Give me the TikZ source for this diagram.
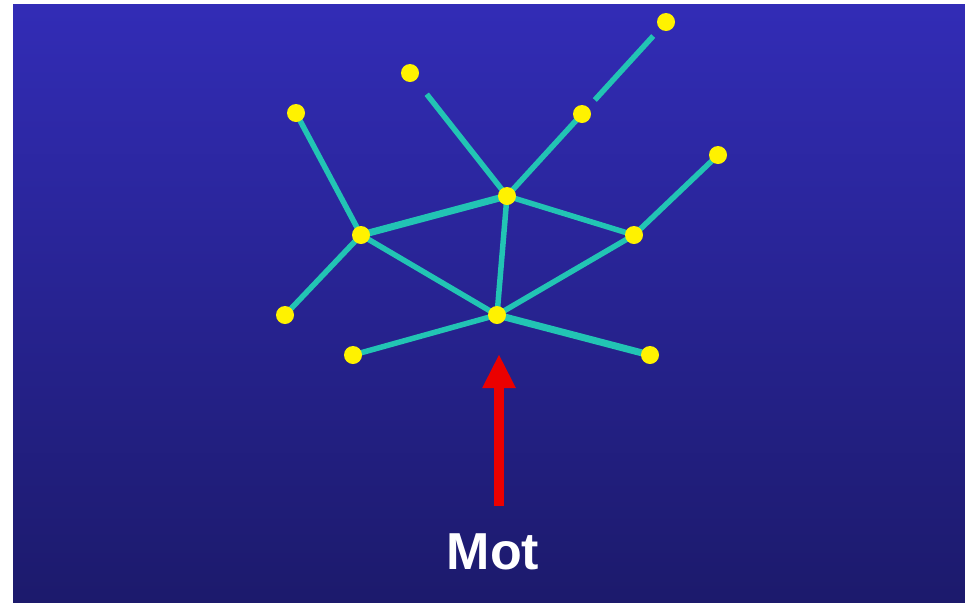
\documentclass[tikz,border=0pt]{standalone}
\usepackage{fontspec}
\setmainfont{Liberation Sans}
\usetikzlibrary{arrows.meta,backgrounds}
\definecolor{bgtop}{RGB}{50,44,182}
\definecolor{bgbot}{RGB}{28,26,108}
\definecolor{link}{RGB}{34,196,180}
\definecolor{dot}{RGB}{255,242,0}
\definecolor{arrowred}{RGB}{235,0,0}
\tikzset{
  joint/.style={circle,fill=dot,inner sep=0pt,minimum size=18pt},
  bone/.style={draw=link,line width=5.5pt},
  thickbone/.style={draw=link,line width=7pt},
}
\begin{document}
\begin{tikzpicture}[x=1pt,y=-1pt]
\useasboundingbox (0,0) rectangle (965,603);

% joints
\node[joint] (A) at (666,22) {};
\node[joint] (B) at (582,114) {};
\node[joint] (C) at (410,73) {};
\node[joint] (D) at (296,113) {};
\node[joint] (E) at (507,196) {};
\node[joint] (F) at (361,235) {};
\node[joint] (G) at (634,235) {};
\node[joint] (H) at (718,155) {};
\node[joint] (I) at (285,315) {};
\node[joint] (J) at (497,315) {};
\node[joint] (K) at (353,355) {};
\node[joint] (L) at (650,355) {};

% links beneath the joints, over the backdrop
\begin{scope}[on background layer]
\fill[white] (0,0) rectangle (965,603);
\shade[top color=bgtop,bottom color=bgbot] (13,4) rectangle (965,602);
\draw[bone,shorten <=19pt,shorten >=19pt] (A.center) -- (B.center);
\draw[bone] (B.center) -- (E.center);
\draw[bone,shorten <=27pt] (C.center) -- (E.center);
\draw[bone] (D.center) -- (F.center);
\draw[thickbone] (F.center) -- (E.center);
\draw[bone] (F.center) -- (I.center);
\draw[bone] (F.center) -- (J.center);
\draw[bone] (E.center) -- (J.center);
\draw[bone] (E.center) -- (G.center);
\draw[bone] (G.center) -- (H.center);
\draw[bone] (G.center) -- (J.center);
\draw[bone] (J.center) -- (K.center);
\draw[thickbone] (J.center) -- (L.center);
\end{scope}

% force arrow and label
\coordinate (tail) at (499,506);
\coordinate (tip) at (499,354);
\draw[arrowred,line width=10pt,-{Triangle[length=34pt,width=31pt]}] (tail) -- (tip);
\node[text=white,font=\bfseries\fontsize{52}{52}\selectfont,inner sep=0pt] (mot) at (493,552) {Mot};
\end{tikzpicture}
\end{document}
